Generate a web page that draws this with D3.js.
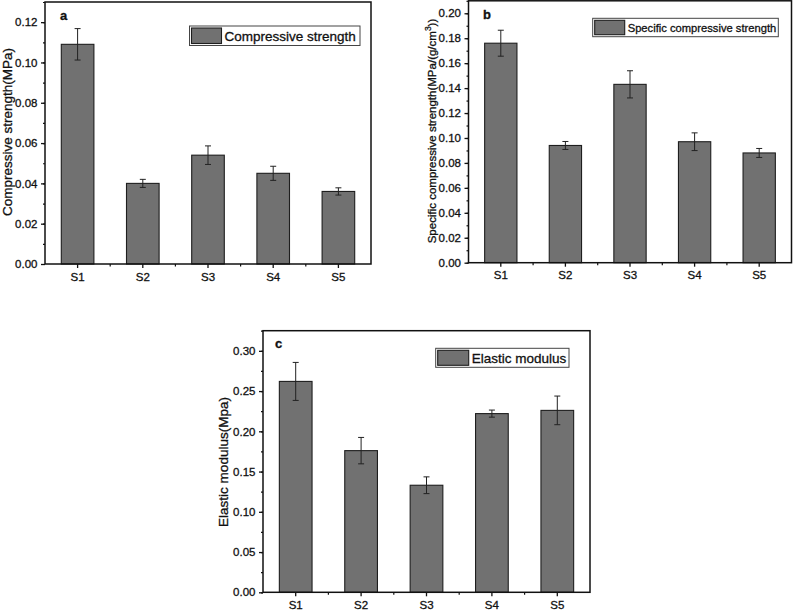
<!DOCTYPE html>
<html>
<head>
<meta charset="utf-8">
<script src="https://cdn.jsdelivr.net/npm/d3@7"></script>
<style>
  html, body { margin: 0; padding: 0; background: #fff; }
  svg { display: block; font-family: "Liberation Sans", Arial, sans-serif; }
  svg text { stroke: #111; stroke-width: 0.3px; }
</style>
</head>
<body>
<svg id="chart" width="795" height="611"></svg>
<script>
// ---- data ----
const categories = ["S1", "S2", "S3", "S4", "S5"];

const compressive    = [0.109, 0.040, 0.054, 0.045, 0.036];
const compressiveErr = [0.0078, 0.0020, 0.0046, 0.0035, 0.0018];

const specific    = [0.176, 0.094, 0.143, 0.097, 0.088];
const specificErr = [0.0104, 0.0032, 0.0109, 0.0071, 0.0036];

const elastic    = [0.262, 0.176, 0.133, 0.222, 0.226];
const elasticErr = [0.0236, 0.0164, 0.0104, 0.0044, 0.0178];

const ticksA = [0.00, 0.02, 0.04, 0.06, 0.08, 0.10, 0.12];
const ticksB = [0.00, 0.02, 0.04, 0.06, 0.08, 0.10, 0.12, 0.14, 0.16, 0.18, 0.20];
const ticksC = [0.00, 0.05, 0.10, 0.15, 0.20, 0.25, 0.30];

const minorA = d3.range(0, 0.1301, 0.01);
const minorB = d3.range(0, 0.2101, 0.01);
const minorC = d3.range(0, 0.3251, 0.025);

// ---- drawing ----
const svg = d3.select("#chart");

function panel(cfg) {
  const g = svg.append("g");
  const L = cfg.left, R = cfg.right, T = cfg.top, B = cfg.bottom;

  const x = d3.scaleBand().domain(categories).range([L, R])
    .paddingInner(0.5).paddingOuter(0.25);
  const y = d3.scaleLinear().domain([0, cfg.ymax]).range([B, T]);

  const step = x.step(), bw = x.bandwidth();
  const data = categories.map((c, i) => ({ c, v: cfg.values[i], e: cfg.errors[i] }));

  // bars
  g.selectAll("rect.bar").data(data).join("rect")
    .attr("class", "bar")
    .attr("x", d => x(d.c))
    .attr("y", d => y(d.v))
    .attr("width", bw)
    .attr("height", d => y(0) - y(d.v))
    .attr("fill", "#717171")
    .attr("stroke", "#1e1e1e")
    .attr("stroke-width", 1.1);

  // error bars
  const eg = g.selectAll("g.err").data(data).join("g").attr("class", "err")
    .attr("stroke", "#222").attr("stroke-width", 1);
  eg.append("line")
    .attr("x1", d => x(d.c) + bw / 2).attr("x2", d => x(d.c) + bw / 2)
    .attr("y1", d => y(d.v + d.e)).attr("y2", d => y(d.v - d.e));
  eg.append("line")
    .attr("x1", d => x(d.c) + bw / 2 - 3).attr("x2", d => x(d.c) + bw / 2 + 3)
    .attr("y1", d => y(d.v + d.e)).attr("y2", d => y(d.v + d.e));
  eg.append("line")
    .attr("x1", d => x(d.c) + bw / 2 - 3).attr("x2", d => x(d.c) + bw / 2 + 3)
    .attr("y1", d => y(d.v - d.e)).attr("y2", d => y(d.v - d.e));

  // frame
  g.append("rect")
    .attr("x", L).attr("y", T).attr("width", R - L).attr("height", B - T)
    .attr("fill", "none").attr("stroke", "#111").attr("stroke-width", 1.5);

  // y axis minor
  g.append("g").attr("transform", `translate(${L},0)`)
    .call(d3.axisLeft(y).tickValues(cfg.minor).tickSize(2).tickFormat(""))
    .call(a => a.select(".domain").remove())
    .selectAll("line").attr("stroke", "#111").attr("stroke-width", 1.2);

  // y axis major
  const ya = g.append("g").attr("transform", `translate(${L},0)`)
    .call(d3.axisLeft(y).tickValues(cfg.ticks).tickSize(4).tickPadding(3.5)
      .tickFormat(d3.format(".2f")));
  ya.select(".domain").remove();
  ya.selectAll("line").attr("stroke", "#111").attr("stroke-width", 1.3);
  ya.selectAll("text").attr("font-size", 11.5).attr("fill", "#111")
    .attr("font-family", "'Liberation Sans', Arial, sans-serif");

  // x axis minor (boundaries between categories)
  const bounds = categories.slice(1).map(c => x(c) - (step - bw) / 2);
  g.append("g").attr("transform", `translate(0,${B})`)
    .selectAll("line").data(bounds).join("line")
    .attr("x1", d => d).attr("x2", d => d).attr("y1", 0).attr("y2", 2.5)
    .attr("stroke", "#111").attr("stroke-width", 1.2);

  // x axis major
  const xa = g.append("g").attr("transform", `translate(0,${B})`)
    .call(d3.axisBottom(x).tickSize(4).tickPadding(4.5));
  xa.select(".domain").remove();
  xa.selectAll("line").attr("stroke", "#111").attr("stroke-width", 1.3);
  xa.selectAll("text").attr("font-size", 11.5).attr("fill", "#111")
    .attr("font-family", "'Liberation Sans', Arial, sans-serif");

  // panel letter
  g.append("text").attr("x", cfg.letterX).attr("y", cfg.letterY)
    .attr("font-size", 13).attr("font-weight", "bold").attr("fill", "#111")
    .text(cfg.letter);

  // legend
  const lg = cfg.legend;
  g.append("rect").attr("x", lg.x).attr("y", lg.y).attr("width", lg.w).attr("height", lg.h)
    .attr("fill", "#fff").attr("stroke", "#444").attr("stroke-width", 1);
  g.append("rect").attr("x", lg.x + 2).attr("y", lg.y + 2).attr("width", lg.sw).attr("height", lg.h - 4)
    .attr("fill", "#717171").attr("stroke", "#1e1e1e").attr("stroke-width", 1.1);
  g.append("text").attr("x", lg.x + lg.sw + 5).attr("y", lg.y + lg.h / 2)
    .attr("dy", "0.36em").attr("font-size", lg.fs).attr("fill", "#111")
    .text(cfg.seriesName);

  // y title
  const yt = g.append("text")
    .attr("transform", `translate(${cfg.titleX},${cfg.titleY}) rotate(-90)`)
    .attr("text-anchor", "middle").attr("dy", "0.36em")
    .attr("font-size", cfg.titleFs).attr("fill", "#111");
  cfg.title(yt);
}

panel({
  left: 45, right: 371, top: 2, bottom: 264, ymax: 0.13,
  values: compressive, errors: compressiveErr, ticks: ticksA, minor: minorA,
  letter: "a", letterX: 60, letterY: 19.5,
  seriesName: "Compressive strength",
  legend: { x: 189.5, y: 26, w: 170.5, h: 19.5, sw: 30, fs: 13.5 },
  titleX: 7, titleY: 132, titleFs: 13.5,
  title: t => t.text("Compressive strength(MPa)")
});

panel({
  left: 468.5, right: 791.5, top: 0.8, bottom: 262.7, ymax: 0.21,
  values: specific, errors: specificErr, ticks: ticksB, minor: minorB,
  letter: "b", letterX: 483, letterY: 19.3,
  seriesName: "Specific compressive strength",
  legend: { x: 592.7, y: 18.3, w: 185.6, h: 18.4, sw: 30, fs: 11.2 },
  titleX: 431.5, titleY: 131, titleFs: 11.5,
  title: t => {
    t.append("tspan").text("Specific compressive strength(MPa/(g/cm");
    t.append("tspan").attr("baseline-shift", "super").attr("font-size", 8.5).text("3");
    t.append("tspan").text("))");
  }
});

panel({
  left: 263, right: 590, top: 330.7, bottom: 592.3, ymax: 0.325,
  values: elastic, errors: elasticErr, ticks: ticksC, minor: minorC,
  letter: "c", letterX: 275, letterY: 347.5,
  seriesName: "Elastic modulus",
  legend: { x: 435.7, y: 348.3, w: 133.3, h: 19, sw: 31, fs: 13.5 },
  titleX: 223, titleY: 462, titleFs: 13.5,
  title: t => t.text("Elastic modulus(Mpa)")
});
</script>
</body>
</html>
